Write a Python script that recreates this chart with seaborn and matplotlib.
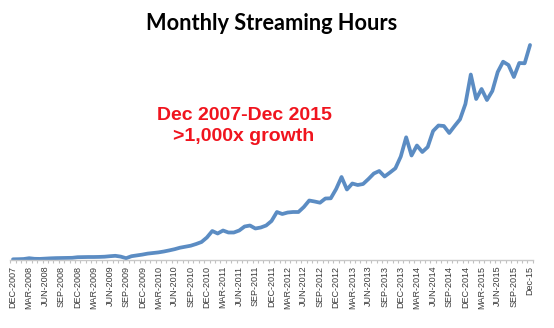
import matplotlib
matplotlib.use("Agg")
import matplotlib.pyplot as plt
import seaborn as sns
import pandas as pd
import numpy as np

# Monthly values Dec 2007 .. Dec 2015 (relative units)
hours = [
    0.7, 0.8, 1.0, 1.8, 1.2, 1.1, 1.4, 1.7, 1.9, 2.0, 2.1, 2.2,
    2.8, 2.9, 3.0, 3.0, 3.1, 3.3, 3.8, 4.2, 3.4, 1.8, 3.8, 4.6,
    5.4, 6.4, 7.0, 7.6, 8.5, 9.6, 10.8, 12.3, 13.3, 14.3, 16.0, 18.0,
    22.5, 29.0, 26.5, 29.5, 27.5, 27.5, 29.5, 33.5, 34.5, 31.5, 32.5, 34.5,
    39.0, 48.0, 46.0, 47.5, 48.0, 48.0, 53.0, 59.5, 58.5, 57.3, 61.5, 61.7,
    71.0, 83.0, 70.5, 76.5, 75.0, 76.0, 81.0, 86.5, 89.0, 83.5, 87.5, 91.7,
    103.5, 122.7, 104.5, 114.5, 108.0, 113.0, 129.0, 134.5, 134.0, 127.0, 134.0, 140.7,
    156.0, 185.5, 161.0, 171.0, 160.0, 169.0, 188.0, 198.3, 195.0, 183.0, 197.0, 196.7,
    215.0,
]
tick_labels = [
    "DEC-2007", "MAR-2008", "JUN-2008", "SEP-2008", "DEC-2008", "MAR-2009",
    "JUN-2009", "SEP-2009", "DEC-2009", "MAR-2010", "JUN-2010", "SEP-2010",
    "DEC-2010", "MAR-2011", "JUN-2011", "SEP-2011", "DEC-2011", "MAR-2012",
    "JUN-2012", "SEP-2012", "DEC-2012", "MAR-2013", "JUN-2013", "SEP-2013",
    "DEC-2013", "MAR-2014", "JUN-2014", "SEP-2014", "DEC-2014", "MAR-2015",
    "JUN-2015", "SEP-2015", "Dec-15",
]
title = "Monthly Streaming Hours"
note = "Dec 2007-Dec 2015\n>1,000x growth"

sns.set_style("white")
plt.rcParams["font.family"] = ["Liberation Sans", "DejaVu Sans"]

df = pd.DataFrame({"month": np.arange(len(hours)), "hours": hours})

fig = plt.figure(figsize=(5.54, 3.28), dpi=100)
ax = fig.add_axes([0.0186, 0.2073, 0.943, 0.686])
sns.lineplot(data=df, x="month", y="hours", ax=ax, color="#5b8cc3", linewidth=2.7)

ax.set_xlim(-0.5, len(hours) - 0.5)
ax.set_ylim(0, 225)
ax.set_xlabel("")
ax.set_ylabel("")
ax.set_yticks([])
ax.set_xticks(np.arange(0, len(hours), 3))
ax.set_xticklabels(tick_labels, rotation=90, fontsize=6.5, color="#3a3a3a")
ax.set_xticks(np.arange(-0.5, len(hours), 1), minor=True)
ax.tick_params(axis="x", which="major", length=0, pad=4)
ax.tick_params(axis="x", which="minor", length=2.5, width=0.8, color="#c0c0c0", bottom=True)
for s in ["top", "right", "left"]:
    ax.spines[s].set_visible(False)
ax.spines["bottom"].set_color("#c8c8c8")
ax.spines["bottom"].set_linewidth(1.0)

fig.text(271.5 / 554, 1 - 23 / 328, title, ha="center", va="center",
         fontsize=15.7, fontweight="bold", family=["Lato", "DejaVu Sans"], color="black")
fig.text(244 / 554, 1 - 126 / 328, note, ha="center", va="center",
         fontsize=14, fontweight="bold", color="#f0141e", linespacing=1.3)

fig.savefig("out.png", dpi=100)
